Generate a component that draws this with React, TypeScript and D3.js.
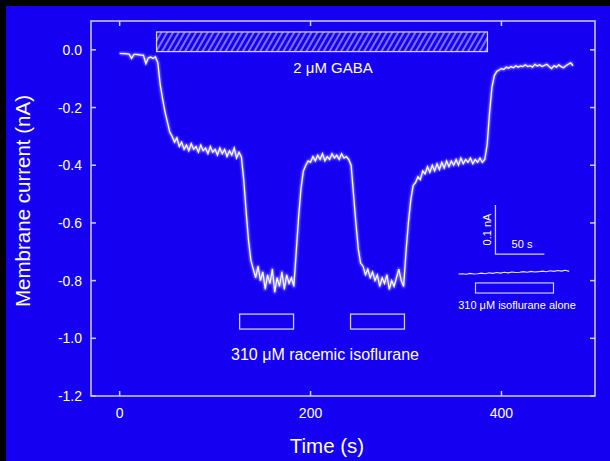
import React from "react";
import * as d3 from "d3";

// ---- data ----
const sampleInterval = 2.5; // s between samples
const current = [
  -0.012, -0.013, -0.013, -0.014, -0.015, -0.03, -0.016, -0.016, -0.017, -0.018,
  -0.019, -0.048, -0.028, -0.025, -0.03, -0.024, -0.045, -0.12, -0.17, -0.215,
  -0.25, -0.285, -0.3, -0.32, -0.305, -0.335, -0.32, -0.345, -0.33, -0.35,
  -0.325, -0.345, -0.335, -0.355, -0.33, -0.35, -0.34, -0.36, -0.335, -0.355,
  -0.345, -0.365, -0.34, -0.36, -0.345, -0.37, -0.35, -0.365, -0.34, -0.375,
  -0.355, -0.37, -0.45, -0.56, -0.66, -0.73, -0.76, -0.79, -0.75, -0.8,
  -0.77, -0.83, -0.78, -0.81, -0.76, -0.84, -0.79, -0.82, -0.77, -0.83,
  -0.78, -0.81, -0.79, -0.82, -0.7, -0.58, -0.48, -0.42, -0.4, -0.385,
  -0.39, -0.37, -0.385, -0.365, -0.38, -0.36, -0.385, -0.37, -0.38, -0.36,
  -0.375, -0.365, -0.38, -0.36, -0.375, -0.37, -0.38, -0.4, -0.5, -0.6,
  -0.69, -0.74, -0.75, -0.78, -0.76, -0.79, -0.77, -0.8, -0.78, -0.82,
  -0.79, -0.81, -0.78, -0.83, -0.8, -0.82, -0.79, -0.76, -0.8, -0.82,
  -0.7, -0.6, -0.52, -0.47, -0.46, -0.44, -0.45, -0.42, -0.43, -0.405,
  -0.425, -0.4, -0.42, -0.395, -0.415, -0.39, -0.41, -0.385, -0.405, -0.385,
  -0.4, -0.38, -0.4, -0.375, -0.395, -0.38, -0.39, -0.375, -0.395, -0.38,
  -0.39, -0.375, -0.39, -0.38, -0.33, -0.22, -0.13, -0.09, -0.075, -0.07,
  -0.065, -0.068, -0.06, -0.064, -0.058, -0.062, -0.055, -0.06, -0.056, -0.058,
  -0.052, -0.058, -0.055, -0.06, -0.05, -0.056, -0.052, -0.058, -0.054, -0.05,
  -0.058, -0.065, -0.055, -0.06, -0.052, -0.058, -0.062, -0.055, -0.05, -0.045,
  -0.055,
];

const insetStart = 355;
const insetInterval = 4;
const insetCurrent = [
  -0.777, -0.776, -0.778, -0.775, -0.777, -0.776, -0.774, -0.776, -0.773, -0.775,
  -0.772, -0.774, -0.771, -0.773, -0.77, -0.772, -0.771, -0.769, -0.771, -0.768,
  -0.77, -0.769, -0.767, -0.769, -0.766, -0.768, -0.765, -0.767, -0.764, -0.768,
];

const gabaBar = { t0: 38.7, t1: 385.3, v0: 0.062, v1: -0.006, label: "2 \u03bcM GABA" };
const isoBars = [
  { t0: 125.7, t1: 182.2 },
  { t0: 241.9, t1: 298.4 },
];
const isoBarV = [-0.916, -0.968];
const isoLabel = "310 \u03bcM racemic isoflurane";
const aloneBar = { t0: 372.8, t1: 454.5, v0: -0.808, v1: -0.843 };
const aloneLabel = "310 \u03bcM isoflurane alone";
const scaleBar = { t: 393.7, t1: 445, v0: -0.538, v1: -0.708, yLabel: "0.1 nA", xLabel: "50 s" };

const xTicks = [0, 200, 400];
const yTicks = [0.0, -0.2, -0.4, -0.6, -0.8, -1.0, -1.2];
const xTitle = "Time (s)";
const yTitle = "Membrane current (nA)";

// ---- layout ----
const W = 610;
const H = 461;
const BG = "#1500f2";
const FG = "#ffffff";
const FRAME = "#cfcfff";
const FONT = "'Liberation Sans', Arial, Helvetica, sans-serif";

export default function App() {
  const x = d3.scaleLinear().domain([-30, 498]).range([91, 595]);
  const y = d3.scaleLinear().domain([-1.2, 0.1]).range([396, 21]);

  const line = d3
    .line<number>()
    .x((_, i) => x(i * sampleInterval))
    .y((d) => y(d));
  const insetLine = d3
    .line<number>()
    .x((_, i) => x(insetStart + i * insetInterval))
    .y((d) => y(d));

  const [x0, x1] = x.range();
  const [yb, yt] = y.range();
  const tl = 5;

  return (
    <svg
      width={W}
      height={H}
      style={{ position: "absolute", left: 0, top: 0, display: "block" }}
      fontFamily={FONT}
    >
      <defs>
        <pattern
          id="hatch"
          width="5"
          height="10"
          patternUnits="userSpaceOnUse"
          patternTransform="rotate(30)"
        >
          <line x1="1" y1="0" x2="1" y2="10" stroke={FRAME} strokeWidth="1.1" />
        </pattern>
        <filter id="glow" x="-5%" y="-5%" width="110%" height="110%">
          <feGaussianBlur stdDeviation="0.8" />
        </filter>
      </defs>
      <rect x={0} y={0} width={W} height={H} fill="#000" />
      <rect x={6} y={6} width={W - 6} height={H - 6} fill={BG} />

      {/* frame */}
      <rect
        x={x0}
        y={yt}
        width={x1 - x0}
        height={yb - yt}
        fill="none"
        stroke={FRAME}
        strokeWidth={1.5}
      />
      {xTicks.map((t) => (
        <g key={"xt" + t} stroke={FRAME} strokeWidth={1.5}>
          <line x1={x(t)} x2={x(t)} y1={yb} y2={yb - tl} />
          <line x1={x(t)} x2={x(t)} y1={yt} y2={yt + tl} />
        </g>
      ))}
      {yTicks.map((v) => (
        <g key={"yt" + v} stroke={FRAME} strokeWidth={1.5}>
          <line x1={x0} x2={x0 + tl} y1={y(v)} y2={y(v)} />
          <line x1={x1} x2={x1 - tl} y1={y(v)} y2={y(v)} />
        </g>
      ))}
      {xTicks.map((t) => (
        <text key={"xl" + t} x={x(t)} y={418} textAnchor="middle" fontSize={14} fill={FG}>
          {t}
        </text>
      ))}
      {yTicks.map((v) => (
        <text
          key={"yl" + v}
          x={82}
          y={y(v) + 5}
          textAnchor="end"
          fontSize={14}
          fill={FG}
        >
          {v.toFixed(1)}
        </text>
      ))}
      <text x={327} y={453} textAnchor="middle" fontSize={20.5} fill={FG}>
        {xTitle}
      </text>
      <text
        transform={`translate(30,201) rotate(-90)`}
        textAnchor="middle"
        fontSize={20.5}
        fill={FG}
      >
        {yTitle}
      </text>

      {/* GABA bar */}
      <rect
        x={x(gabaBar.t0)}
        y={y(gabaBar.v0)}
        width={x(gabaBar.t1) - x(gabaBar.t0)}
        height={y(gabaBar.v1) - y(gabaBar.v0)}
        fill="url(#hatch)"
        stroke={FRAME}
        strokeWidth={1.3}
      />
      <text x={333} y={73} textAnchor="middle" fontSize={15} fill={FG}>
        {gabaBar.label}
      </text>

      {/* isoflurane bars */}
      {isoBars.map((b, i) => (
        <rect
          key={"iso" + i}
          x={x(b.t0)}
          y={y(isoBarV[0])}
          width={x(b.t1) - x(b.t0)}
          height={y(isoBarV[1]) - y(isoBarV[0])}
          fill="none"
          stroke={FRAME}
          strokeWidth={1.3}
        />
      ))}
      <text x={325} y={360} textAnchor="middle" fontSize={16} fill={FG}>
        {isoLabel}
      </text>

      {/* trace */}
      <path
        d={line(current) || ""}
        fill="none"
        stroke="#ffffff"
        strokeWidth={3}
        strokeOpacity={0.45}
        strokeLinejoin="round"
        filter="url(#glow)"
      />
      <path d={line(current) || ""} fill="none" stroke="#f6f6ff" strokeWidth={1.3} />

      {/* inset */}
      <path
        d={`M${x(scaleBar.t)},${y(scaleBar.v0)}V${y(scaleBar.v1)}H${x(scaleBar.t1)}`}
        fill="none"
        stroke={FRAME}
        strokeWidth={1.3}
      />
      <text
        transform={`translate(${x(scaleBar.t) - 4},${(y(scaleBar.v0) + y(scaleBar.v1)) / 2}) rotate(-90)`}
        textAnchor="middle"
        fontSize={11}
        fill={FG}
      >
        {scaleBar.yLabel}
      </text>
      <text x={522} y={248} textAnchor="middle" fontSize={11} fill={FG}>
        {scaleBar.xLabel}
      </text>
      <path d={insetLine(insetCurrent) || ""} fill="none" stroke="#e8e8ff" strokeWidth={1.1} />
      <rect
        x={x(aloneBar.t0)}
        y={y(aloneBar.v0)}
        width={x(aloneBar.t1) - x(aloneBar.t0)}
        height={y(aloneBar.v1) - y(aloneBar.v0)}
        fill="none"
        stroke={FRAME}
        strokeWidth={1.2}
      />
      <text x={517} y={309} textAnchor="middle" fontSize={11} fill={FG}>
        {aloneLabel}
      </text>
    </svg>
  );
}
